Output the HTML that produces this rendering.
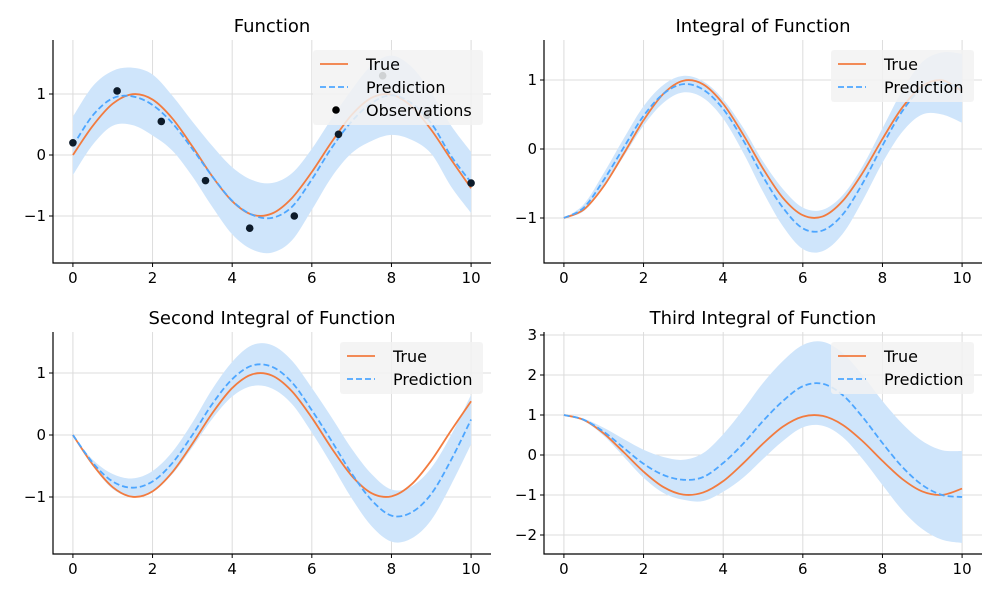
<!DOCTYPE html>
<html><head><meta charset="utf-8"><style>
body{margin:0;background:#fff}
svg{font-family:"DejaVu Sans","Liberation Sans",sans-serif}
</style></head><body>
<svg id="c" width="1000" height="600" xmlns="http://www.w3.org/2000/svg"></svg>
<script>
const xs=[0,0.5,1,1.5,2,2.5,3,3.5,4,4.5,5,5.5,6,6.5,7,7.5,8,8.5,9,9.5,10];
const xTicks=[0,2,4,6,8,10];
const trueF=[0,.479,.841,.997,.909,.598,.141,-.351,-.757,-.978,-.959,-.706,-.279,.215,.657,.938,.989,.798,.412,-.075,-.544];
const predF=[.15,.65,.93,.96,.82,.52,.1,-.35,-.75,-.98,-1.03,-.85,-.4,.12,.55,.85,.98,.85,.52,-.02,-.45];
const stdF=[.48,.48,.45,.47,.5,.45,.45,.5,.55,.57,.57,.55,.5,.48,.52,.62,.65,.6,.5,.5,.5];
const obsX=[0,1.11,2.22,3.33,4.44,5.56,6.67,7.78,8.89,10];
const obsY=[.2,1.05,.55,-.42,-1.2,-1.0,.34,1.3,.65,-.46];
const trueI1=[-1,-.878,-.540,-.071,.416,.801,.990,.936,.654,.211,-.284,-.709,-.960,-.977,-.754,-.347,.146,.602,.911,.997,.839];
const predI1=[-1,-.85,-.45,.02,.48,.8,.94,.86,.58,.13,-.4,-.85,-1.15,-1.18,-.95,-.5,.05,.55,.88,.95,.88];
const stdI1=[0,.05,.1,.13,.14,.13,.12,.12,.14,.18,.22,.27,.3,.3,.28,.25,.25,.3,.38,.45,.5];
const trueI2=[0,-.479,-.841,-.997,-.909,-.598,-.141,.351,.757,.978,.959,.706,.279,-.215,-.657,-.938,-.989,-.798,-.412,.075,.544];
const predI2=[0,-.45,-.75,-.85,-.75,-.45,0,.5,.9,1.12,1.1,.85,.4,-.1,-.62,-1.05,-1.3,-1.25,-.95,-.4,.25];
const stdI2=[0,.05,.12,.15,.17,.18,.2,.24,.28,.33,.35,.35,.36,.38,.4,.42,.42,.42,.42,.4,.4];
const trueI3=[1,.878,.540,.071,-.416,-.801,-.990,-.936,-.654,-.211,.284,.709,.960,.977,.754,.347,-.146,-.602,-.911,-.997,-.839];
const predI3=[1,.88,.58,.18,-.22,-.5,-.62,-.55,-.2,.28,.85,1.35,1.72,1.78,1.5,.95,.3,-.3,-.75,-1.0,-1.05];
const stdI3=[0,.03,.1,.22,.35,.45,.5,.6,.72,.85,.95,1.0,1.03,1.05,1.05,1.05,1.05,1.08,1.1,1.12,1.15];

const NS="http://www.w3.org/2000/svg",svg=document.getElementById('c');
function mk(t,a,p){const e=document.createElementNS(NS,t);for(const k in a)e.setAttribute(k,a[k]);(p||svg).appendChild(e);return e;}
function smooth(P){let d=`M${P[0][0]},${P[0][1]}`;for(let i=0;i<P.length-1;i++){const p0=P[Math.max(i-1,0)],p1=P[i],p2=P[i+1],p3=P[Math.min(i+2,P.length-1)];
d+=` C${p1[0]+(p2[0]-p0[0])/6},${p1[1]+(p2[1]-p0[1])/6} ${p2[0]-(p3[0]-p1[0])/6},${p2[1]-(p3[1]-p1[1])/6} ${p2[0]},${p2[1]}`;}return d;}
function panel(o){
 const g=mk('g',{});
 const X=v=>o.L+(v+0.5)/11*(o.R-o.L), Y=v=>o.y0-v*o.ys;
 xTicks.forEach(t=>{const l=mk('line',{x1:X(t),x2:X(t),y1:o.T,y2:o.B,stroke:'#dcdcdc','stroke-width':1},g);});
 o.yt.forEach(t=>{const l=mk('line',{x1:o.L,x2:o.R,y1:Y(t),y2:Y(t),stroke:'#dcdcdc','stroke-width':1},g);});
 const up=xs.map((x,i)=>[X(x),Y(o.pred[i]+o.std[i])]),lo=xs.map((x,i)=>[X(x),Y(o.pred[i]-o.std[i])]).reverse();
 const band=mk('path',{d:smooth(up)+' L'+smooth(lo).slice(1)+' Z',fill:'#cfe5fb',stroke:'none'},g);
 
 const tp=mk('path',{d:smooth(xs.map((x,i)=>[X(x),Y(o.tru[i])])),fill:'none',stroke:'#f27b3f','stroke-width':1.8},g);
 
 const pp=mk('path',{d:smooth(xs.map((x,i)=>[X(x),Y(o.pred[i])])),fill:'none',stroke:'#4da6ff','stroke-width':1.8,'stroke-dasharray':'6,3'},g);
 
 if(o.obs){obsX.forEach((x,i)=>{const c=mk('circle',{cx:X(x),cy:Y(obsY[i]),r:3.8,fill:'#0d1b2a'},g);});}
 const ax=mk('path',{d:`M${o.L},${o.T} V${o.B} H${o.R}`,fill:'none',stroke:'#000','stroke-width':1.2},g);
 
 xTicks.forEach(t=>{mk('line',{x1:X(t),x2:X(t),y1:o.B,y2:o.B+4,stroke:'#000'},g);const tx=mk('text',{x:X(t),y:o.B+20,'font-size':15,'text-anchor':'middle'},g);tx.textContent=t;});
 o.yt.forEach(t=>{mk('line',{x1:o.L-4,x2:o.L,y1:Y(t),y2:Y(t),stroke:'#000'},g);const tx=mk('text',{x:o.L-7,y:Y(t)+5,'font-size':15,'text-anchor':'end'},g);tx.textContent=t<0?'\u2212'+(-t):t;});
 const ti=mk('text',{x:(o.L+o.R)/2,y:o.T-8,'font-size':18,'text-anchor':'middle'},g);ti.textContent=o.title;
 const lg=mk('g',{},g);
 const lx=o.R-8-o.lw, ly=o.T+10, n=o.obs?3:2;
 mk('rect',{x:lx,y:ly,width:o.lw,height:n*23+6,rx:3,fill:'#f2f2f2','fill-opacity':0.85},lg);
 const items=[['True','t'],['Prediction','p']];if(o.obs)items.push(['Observations','o']);
 items.forEach((it,i)=>{const yy=ly+14+i*23;
  if(it[1]=='t')mk('line',{x1:lx+7,x2:lx+35,y1:yy,y2:yy,stroke:'#f27b3f','stroke-width':1.8},lg);
  if(it[1]=='p')mk('line',{x1:lx+7,x2:lx+35,y1:yy,y2:yy,stroke:'#4da6ff','stroke-width':1.8,'stroke-dasharray':'6,3'},lg);
  if(it[1]=='o')mk('circle',{cx:lx+23,cy:yy,r:3.8,fill:'#000'},lg);
  const t=mk('text',{x:lx+53,y:yy+6,'font-size':16},lg);t.textContent=it[0];});
}
panel({name:'function-panel',title:'Function',L:53,R:491,T:40,B:263,y0:155,ys:61,yt:[-1,0,1],tru:trueF,pred:predF,std:stdF,obs:true,lw:170});
panel({name:'integral-panel',title:'Integral of Function',L:544,R:982,T:40,B:263,y0:149,ys:69,yt:[-1,0,1],tru:trueI1,pred:predI1,std:stdI1,lw:143});
panel({name:'second-integral-panel',title:'Second Integral of Function',L:53,R:491,T:332,B:554,y0:435,ys:62,yt:[-1,0,1],tru:trueI2,pred:predI2,std:stdI2,lw:143});
panel({name:'third-integral-panel',title:'Third Integral of Function',L:544,R:982,T:332,B:554,y0:455,ys:40,yt:[-2,-1,0,1,2,3],tru:trueI3,pred:predI3,std:stdI3,lw:143});
</script>
</body></html>
